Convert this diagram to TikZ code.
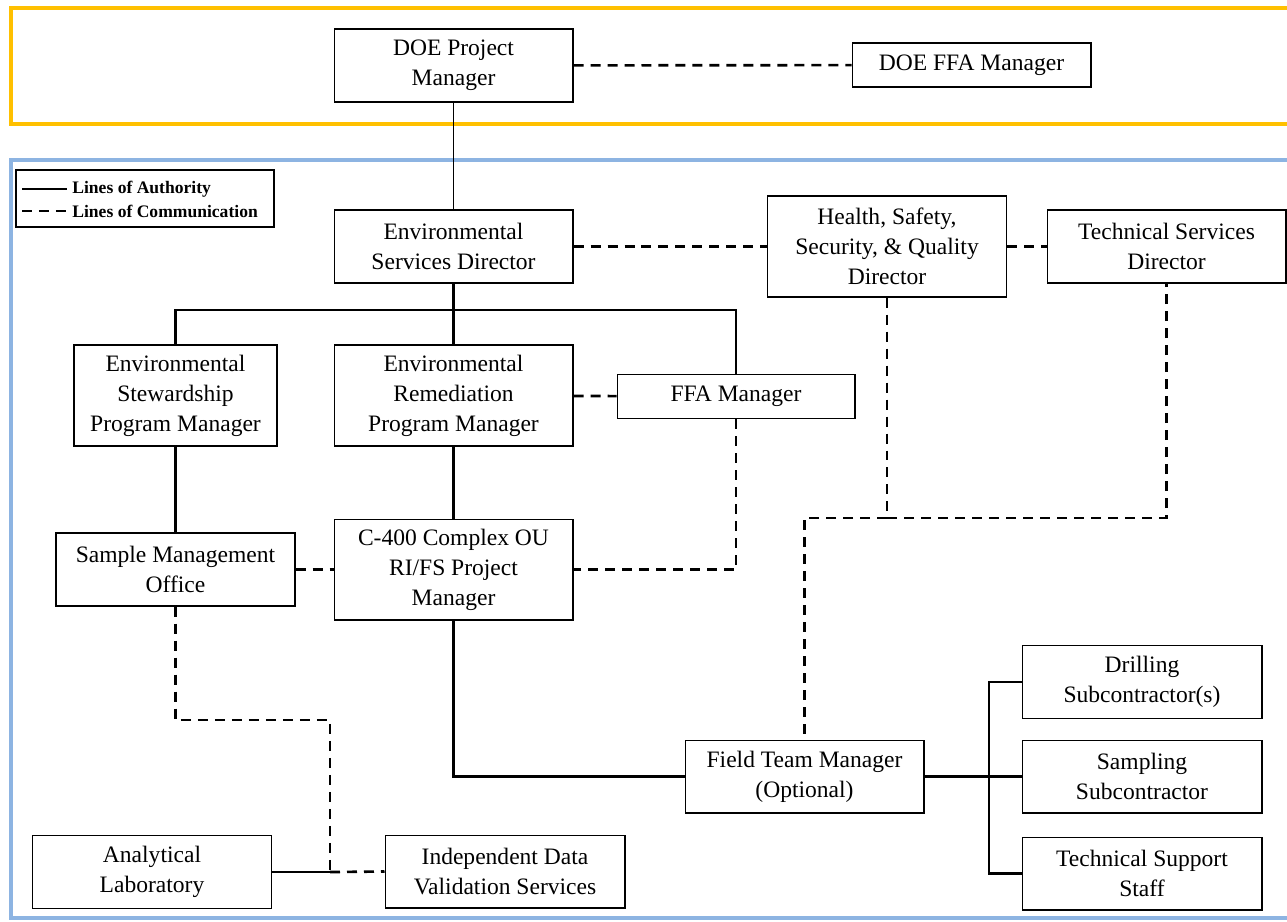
\documentclass[tikz,border=0pt]{standalone}
\usepackage{fontspec}
\setmainfont{Liberation Serif}
\definecolor{frameyellow}{HTML}{FFC000}
\definecolor{frameblue}{HTML}{8DB4E2}
\begin{document}
\begin{tikzpicture}[x=0.02cm,y=-0.02cm,
    box/.style={draw,line width=0.6pt,fill=white,align=center,inner sep=0pt,
      font=\fontsize{13.4}{17}\selectfont,minimum width=4.78cm,minimum height=1.46cm},
    tall/.style={minimum height=2.02cm},
    flat/.style={minimum height=0.88cm},
    auth/.style={line width=1.5pt},
    comm/.style={line width=1.5pt,dash pattern=on 0.2cm off 0.14cm},
    legendtxt/.style={anchor=west,inner sep=0pt,font=\fontsize{10}{12}\selectfont\bfseries}]
  \useasboundingbox (0,0) rectangle (1287,921);
  % frames
  \draw[frameyellow,line width=2.3pt] (11,8) rectangle (1300,124);
  \draw[frameblue,line width=2.3pt] (11,160) rectangle (1300,918);
  % boxes
  \node[box] (doepm) at (453.5,65.5) {DOE Project\\Manager};
  \node[box,flat] (doeffa) at (971.5,65) {DOE FFA Manager};
  \node[box] (esd) at (453.5,246.5) {Environmental\\Services Director};
  \node[box,tall] (hssq) at (887,246.5) {Health, Safety,\\Security, \& Quality\\Director};
  \node[box] (tsd) at (1166.5,246.5) {Technical Services\\Director};
  \node[box,tall,minimum width=4.06cm] (espm) at (175.5,395.5) {Environmental\\Stewardship\\Program Manager};
  \node[box,tall] (erpm) at (453.5,395.5) {Environmental\\Remediation\\Program Manager};
  \node[box,flat,minimum width=4.76cm] (ffa) at (736,396.5) {FFA Manager};
  \node[box] (smo) at (175.5,569.5) {Sample Management\\Office};
  \node[box,tall] (c400) at (453.5,569.5) {C-400 Complex OU\\RI/FS Project\\Manager};
  \node[box] (ftm) at (804.5,776.5) {Field Team Manager\\(Optional)};
  \node[box,minimum width=4.8cm] (drill) at (1142,682) {Drilling\\Subcontractor(s)};
  \node[box,minimum width=4.8cm] (samp) at (1142,776.5) {Sampling\\Subcontractor};
  \node[box,minimum width=4.8cm] (tss) at (1142,873.5) {Technical Support\\Staff};
  \node[box] (lab) at (152,872) {Analytical\\Laboratory};
  \node[box,minimum width=4.8cm] (idvs) at (505,871.5) {Independent Data\\Validation Services};
  % legend
  \node[draw,line width=0.9pt,minimum width=5.16cm,minimum height=1.14cm] (legend) at (145,198.5) {};
  \node[legendtxt] (authtxt) at (72,189) {Lines of Authority};
  \node[legendtxt] (commtxt) at (72,211) {Lines of Communication};
  \coordinate (authstart) at (22,189);
  \coordinate (commstart) at (22,211);
  \draw[auth] (authstart) -- ([xshift=-0.1cm]authtxt.west);
  \draw[comm] (commstart) -- ([xshift=-0.1cm]commtxt.west);
  % junctions
  \coordinate (bus) at (453.5,310);
  \coordinate (hsjoin) at (887,518);
  \coordinate (fork) at (989,776.5);
  \coordinate (smobend) at (330,720);
  \coordinate (labjoin) at (330,872);
  % lines of authority
  \begin{scope}[auth]
    \draw[line width=0.9pt] (doepm) -- (esd);
    \draw (esd) -- (erpm);
    \draw (espm.north) |- (bus) -| (ffa.north);
    \draw (espm) -- (smo);
    \draw (erpm) -- (c400);
    \draw (c400.south) |- (ftm.west);
    \draw (ftm.east) -- (fork);
    \draw (drill.west) -| (fork) |- (tss.west);
    \draw (fork) -- (samp.west);
    \draw (lab.east) -- (labjoin);
  \end{scope}
  % lines of communication
  \begin{scope}[comm]
    \draw (doepm) -- (doeffa);
    \draw (esd) -- (hssq);
    \draw (hssq) -- (tsd);
    \draw (erpm) -- (ffa);
    \draw (ffa.south) |- (c400.east);
    \draw (smo) -- (c400);
    \draw (hssq.south) -- (hsjoin) -| (tsd.south);
    \draw (hsjoin) -| (ftm.north);
    \draw (smo.south) |- (smobend) -- (labjoin);
    \draw (labjoin) -- (idvs.west);
  \end{scope}
\end{tikzpicture}
\end{document}
